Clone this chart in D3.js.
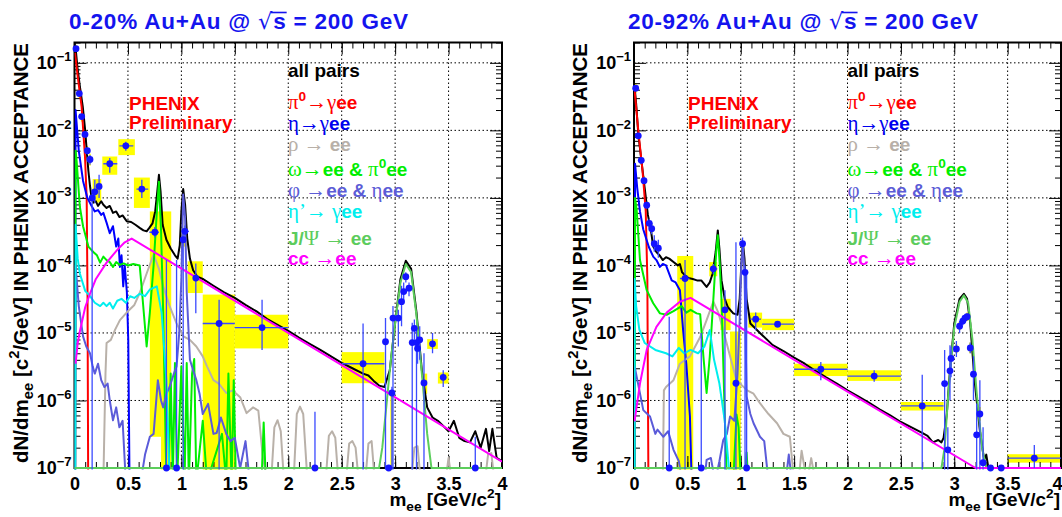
<!DOCTYPE html>
<html><head><meta charset="utf-8">
<script src="https://cdn.jsdelivr.net/npm/d3@7/dist/d3.min.js"></script>
<style>
html,body{margin:0;padding:0;background:#fff;}
svg{display:block;}
</style></head><body>
<svg id="chart" width="1062" height="517" xmlns="http://www.w3.org/2000/svg"></svg>
<script>
// ---------------- DATA (mass in GeV/c^2, yield dN/dm_ee) ----------------
const xTickValues=[0,0.5,1,1.5,2,2.5,3,3.5,4];
const xTickLabels=['0','0.5','1','1.5','2','2.5','3','3.5','4'];
const yTickValues=[1e-7,1e-6,1e-5,1e-4,1e-3,1e-2,1e-1];
const yTickExponents=['7','6','5','4','3','2','1'];

// ----- 0-20% centrality cocktail -----
const allPairs0020=[[0.01,0.166],[0.03,0.079],[0.05,0.045],[0.078,0.022],[0.1,0.010],[0.114,5.1e-3],[0.13,2.5e-3],[0.145,1.5e-3],[0.16,1.0e-3],[0.176,8.5e-4],[0.2,8.9e-4],[0.22,7.6e-4],[0.25,8.9e-4],[0.27,7.9e-4],[0.3,7.1e-4],[0.33,7.6e-4],[0.36,6.0e-4],[0.39,6.3e-4],[0.42,5.2e-4],[0.45,5.5e-4],[0.49,4.5e-4],[0.53,4.4e-4],[0.57,4.0e-4],[0.61,3.6e-4],[0.645,3.3e-4],[0.675,3.2e-4],[0.7,3.6e-4],[0.73,4.2e-4],[0.755,6.3e-4],[0.775,1.26e-3],[0.79,2.2e-3],[0.805,1.26e-3],[0.825,4.0e-4],[0.86,2.4e-4],[0.9,1.78e-4],[0.94,1.41e-4],[0.965,1.26e-4],[0.985,2.0e-4],[1.0,6.3e-4],[1.017,1.35e-3],[1.035,7.9e-4],[1.055,2.5e-4],[1.08,1.26e-4],[1.11,8.5e-5],[1.15,6.8e-5],[1.2,6.3e-5],[1.3,5.0e-5],[1.4,4.0e-5],[1.5,3.3e-5],[1.6,2.6e-5],[1.7,2.1e-5],[1.8,1.62e-5],[1.9,1.32e-5],[2.0,1.07e-5],[2.1,8.5e-6],[2.2,6.9e-6],[2.3,5.6e-6],[2.4,4.5e-6],[2.5,3.6e-6],[2.6,3.0e-6],[2.7,2.5e-6],[2.75,2.34e-6],[2.8,1.95e-6],[2.85,1.66e-6],[2.9,1.58e-6],[2.95,2.8e-6],[3.0,1.41e-5],[3.05,6.3e-5],[3.1,1.17e-4],[3.15,8.9e-5],[3.2,2.0e-5],[3.25,2.8e-6],[3.3,7.9e-7],[3.35,5.6e-7],[3.4,5.0e-7],[3.45,4.2e-7],[3.5,3.5e-7],[3.55,5.0e-7],[3.6,2.8e-7],[3.65,2.5e-7],[3.7,2.4e-7],[3.75,3.5e-7],[3.8,2.0e-7],[3.85,3.8e-7],[3.88,1.78e-7],[3.91,3.8e-7],[3.95,1.41e-7],[4.0,1.26e-7]];
const pi0_0020=[[0.005,0.141],[0.03,0.063],[0.067,0.022],[0.098,4.1e-3],[0.114,1.0e-3],[0.122,3.2e-5],[0.128,6.3e-8]];
const eta0020=[[0.006,6.3e-8],[0.01,0.02],[0.04,5.0e-3],[0.08,1.78e-3],[0.12,1.0e-3],[0.16,7.6e-4],[0.19,6.3e-4],[0.22,6.6e-4],[0.25,5.6e-4],[0.27,6.0e-4],[0.3,4.3e-4],[0.33,3.0e-4],[0.36,3.8e-4],[0.39,1.9e-4],[0.41,2.5e-4],[0.425,9.5e-5],[0.44,1.41e-4],[0.456,4.9e-5],[0.47,1.0e-4],[0.49,4.0e-5],[0.503,7.9e-6],[0.515,6.3e-8]];
const rho0020=[[0.27,6.3e-8],[0.29,2.5e-6],[0.3,7.1e-6],[0.34,7.9e-6],[0.38,1.12e-5],[0.425,1.55e-5],[0.5,2.1e-5],[0.56,2.6e-5],[0.61,3.9e-5],[0.675,7.6e-5],[0.74,1.45e-4],[0.79,8.9e-5],[0.83,4.9e-5],[0.89,2.5e-5],[0.955,1.38e-5],[1.02,8.9e-6],[1.08,7.9e-6],[1.14,6.3e-6],[1.2,4.5e-6],[1.24,3.2e-6],[1.3,2.0e-6],[1.35,1.78e-6],[1.42,1.29e-6],[1.48,1.41e-6],[1.55,1.12e-6],[1.61,6.5e-7],[1.67,7.9e-7],[1.72,7.1e-7],[1.76,1.58e-7],[1.8,6.3e-8],[1.84,6.3e-8],[1.87,4.0e-7],[1.9,5.1e-7],[1.93,3.5e-7],[1.96,6.3e-8],[2.05,6.3e-8],[2.08,6.3e-7],[2.11,8.1e-7],[2.14,6.3e-7],[2.18,6.3e-8],[2.35,6.3e-8],[2.38,3.0e-7],[2.41,3.5e-7],[2.44,2.8e-7],[2.47,6.3e-8],[2.54,6.3e-8],[2.57,2.3e-7],[2.6,2.5e-7],[2.63,2.0e-7],[2.66,6.3e-8],[2.72,6.3e-8],[2.75,2.3e-7],[2.78,2.5e-7],[2.81,6.3e-8],[3.15,6.3e-8],[3.18,2.0e-7],[3.21,2.1e-7],[3.24,6.3e-8],[3.47,6.3e-8],[3.5,1.41e-7],[3.53,6.3e-8],[3.84,6.3e-8],[3.87,1.6e-7],[3.9,1.66e-7],[3.93,6.3e-8]];
const omega0020=[[0.006,6.3e-8],[0.01,5.0e-3],[0.02,3.5e-3],[0.05,7.4e-4],[0.08,3.8e-4],[0.13,1.9e-4],[0.176,1.58e-4],[0.21,1.41e-4],[0.24,1.1e-4],[0.27,1.35e-4],[0.3,1.2e-4],[0.33,1.12e-4],[0.36,9.5e-5],[0.39,1.12e-4],[0.425,1.02e-4],[0.46,1.07e-4],[0.5,1.0e-4],[0.55,1.05e-4],[0.61,1.0e-4],[0.63,4.4e-5],[0.675,6.3e-6],[0.705,2.0e-5],[0.74,1.0e-4],[0.77,6.0e-4],[0.79,1.74e-3],[0.81,3.2e-4],[0.83,2.0e-5],[0.86,6.3e-8],[0.88,6.3e-8],[0.9,2.5e-6],[0.92,6.3e-8],[0.94,3.6e-6],[0.96,6.3e-8],[1.0,3.2e-6],[1.03,6.3e-8],[1.05,3.6e-6],[1.07,6.3e-8],[1.1,2.5e-6],[1.12,4.1e-6],[1.14,6.3e-8],[1.2,5.0e-7],[1.24,6.3e-8],[1.38,3.2e-7],[1.42,6.3e-8],[1.44,2.5e-6],[1.47,6.3e-8],[1.49,2.0e-6],[1.51,6.3e-8],[1.75,6.3e-8],[1.77,4.7e-7],[1.79,6.3e-8]];
const phi0020=[[0.006,6.3e-8],[0.01,1.0e-4],[0.04,2.5e-5],[0.08,8.9e-6],[0.11,6.3e-6],[0.145,5.0e-6],[0.17,3.2e-6],[0.19,2.5e-6],[0.22,3.5e-6],[0.25,2.0e-6],[0.28,1.58e-6],[0.31,1.78e-6],[0.33,1.0e-6],[0.36,5.1e-7],[0.39,7.9e-7],[0.42,4.0e-7],[0.45,5.0e-7],[0.48,6.3e-8],[0.62,6.3e-8],[0.66,1.58e-7],[0.705,2.9e-7],[0.74,3.2e-7],[0.78,2.0e-6],[0.81,1.0e-6],[0.83,7.9e-7],[0.86,1.26e-6],[0.89,1.58e-6],[0.93,2.5e-6],[0.955,3.2e-6],[0.98,1.0e-5],[1.0,6.3e-5],[1.017,1.12e-3],[1.035,5.0e-4],[1.05,4.0e-5],[1.08,4.0e-6],[1.11,2.8e-6],[1.14,2.0e-6],[1.17,1.26e-6],[1.2,6.3e-7],[1.25,8.9e-7],[1.3,3.2e-7],[1.33,3.3e-7],[1.37,5.6e-7],[1.42,3.2e-7],[1.46,2.5e-7],[1.5,2.8e-7],[1.55,1.0e-7],[1.6,2.5e-7],[1.64,6.3e-8]];
const etaPrime0020=[[0.006,6.3e-8],[0.01,4.0e-4],[0.03,1.26e-4],[0.05,7.6e-5],[0.1,4.2e-5],[0.145,3.5e-5],[0.19,2.8e-5],[0.24,2.5e-5],[0.27,2.8e-5],[0.3,2.5e-5],[0.33,2.8e-5],[0.36,2.3e-5],[0.4,3.0e-5],[0.44,3.2e-5],[0.48,2.8e-5],[0.52,3.5e-5],[0.56,3.3e-5],[0.61,3.8e-5],[0.66,3.5e-5],[0.705,4.4e-5],[0.77,4.9e-5],[0.815,2.0e-5],[0.86,2.0e-6],[0.89,6.3e-8]];
const jpsi0020=[[0,1e-7],[2.85,1e-7],[2.88,2.0e-7],[2.92,8.9e-7],[2.96,4.0e-6],[3.0,1.4e-5],[3.05,5.6e-5],[3.1,1.05e-4],[3.15,7.9e-5],[3.2,1.8e-5],[3.25,2.5e-6],[3.3,3.2e-7],[3.34,1e-7],[4,1e-7]];
const ccbar0020=[[0.01,3.5e-6],[0.03,7.1e-6],[0.05,1.05e-5],[0.1,2.4e-5],[0.15,4.0e-5],[0.2,6.3e-5],[0.3,1.1e-4],[0.4,1.7e-4],[0.47,2.2e-4],[0.535,2.5e-4],[2.0,1.0e-5],[4.0,1.24e-7]];
// data points: [mass, value, errLow, errHigh, (massLow, massHigh)]
const points0020=[[0.014,0.162,0.15,0.175],[0.045,0.035,0.032,0.038],[0.067,0.016,0.0145,0.0175],[0.098,8.7e-3,7.9e-3,9.6e-3],[0.12,5.0e-3,4.4e-3,5.6e-3],[0.145,3.7e-3,3.1e-3,4.3e-3],[0.165,1.0e-3,1e-8,1.3e-3],[0.19,1.23e-3,8.3e-4,1.86e-3],[0.23,1.48e-3,1.0e-3,2.2e-3],[0.33,3.2e-3,2.35e-3,3.9e-3,0.27,0.4],[0.48,5.9e-3,5.0e-3,6.8e-3,0.42,0.55],[0.63,1.35e-3,1.0e-3,1.86e-3,0.58,0.69],[0.752,3.1e-4,2.6e-4,3.7e-4,0.7,0.79],[0.86,1e-7,1e-7,1.2e-4],[0.955,1e-7,1e-7,1.2e-4],[1.017,2.4e-4,1e-8,3.5e-4],[1.033,3.2e-4,2.6e-4,3.9e-4,1.0,1.07],[1.135,6.5e-5,1.95e-5,1.07e-4],[1.353,1.38e-5,1e-8,3.1e-5,1.2,1.5],[1.755,1.2e-5,5.6e-6,3.1e-5,1.5,2.0],[2.25,1e-7,1e-7,6.8e-7],[2.7,3.5e-6,1e-8,1.38e-5,2.5,2.9],[2.91,7.4e-6,1e-8,1.66e-5],[2.94,1e-7,1e-7,1e-7],[2.97,1.29e-6,1e-8,1.6e-6],[2.98,1.66e-5,1e-8,2.5e-5],[3.03,1.66e-5,6.3e-6,2.2e-5],[3.06,2.9e-5,1.26e-5,5.0e-5],[3.08,4.1e-5,2.8e-5,5.6e-5],[3.1,6.8e-5,5.6e-5,7.9e-5],[3.13,4.6e-5,3.5e-5,5.6e-5],[3.16,7.2e-6,1e-8,1.41e-5],[3.18,1.17e-5,7.9e-6,1.58e-5],[3.2,7.2e-6,1e-8,1.12e-5],[3.21,5.9e-6,3.5e-6,8.9e-6],[3.23,7.9e-6,4.0e-6,1.26e-5],[3.27,1.82e-6,1e-8,5.0e-6],[3.35,6.9e-6,5.0e-6,1.0e-5],[3.45,2.2e-6,1.58e-6,2.8e-6],[3.75,1e-7,1e-7,2.9e-7]];
// systematic boxes: [massLow, massHigh, yLow, yHigh]
const sysBoxes0020=[[0.006,0.022,0.14,0.185],[0.038,0.052,0.03,0.04],[0.06,0.074,0.0135,0.0185],[0.091,0.105,7.4e-3,1.0e-2],[0.113,0.127,4.2e-3,5.9e-3],[0.138,0.152,3.0e-3,4.5e-3],[0.17,0.25,8.5e-4,1.9e-3],[0.26,0.40,2.2e-3,4.1e-3],[0.41,0.565,4.3e-3,7.4e-3],[0.556,0.705,7.1e-4,2.0e-3],[0.705,0.81,2.9e-7,6.3e-4],[0.81,0.905,1e-8,6.3e-4],[1.0,1.05,1.9e-4,3.6e-4],[1.06,1.2,3.9e-5,1.15e-4],[1.2,1.5,1e-8,3.7e-5],[1.5,2.0,5.9e-6,1.86e-5],[2.5,2.9,1.8e-6,5.2e-6],[2.955,2.975,1e-8,1.3e-6],[3.09,3.11,6.0e-5,7.6e-5],[3.26,3.3,1.26e-6,2.5e-6],[3.3,3.4,5.8e-6,8.1e-6],[3.4,3.5,1.78e-6,2.6e-6]];

// ----- 20-92% centrality cocktail -----
const allPairs2092=[[0.005,0.045],[0.02,0.025],[0.04,8.9e-3],[0.07,3.5e-3],[0.1,1.41e-3],[0.13,5.6e-4],[0.16,3.2e-4],[0.18,1.9e-4],[0.21,1.58e-4],[0.24,1.41e-4],[0.27,1.2e-4],[0.3,1.32e-4],[0.33,1.26e-4],[0.37,1.12e-4],[0.41,1.0e-4],[0.43,1.05e-4],[0.45,7.9e-5],[0.48,7.1e-5],[0.51,6.5e-5],[0.55,6.3e-5],[0.59,6.0e-5],[0.63,6.0e-5],[0.68,4.8e-5],[0.71,5.6e-5],[0.737,7.6e-5],[0.765,1.58e-4],[0.785,3.3e-4],[0.8,1.78e-4],[0.82,6.0e-5],[0.85,3.2e-5],[0.88,2.4e-5],[0.93,1.95e-5],[0.97,1.86e-5],[0.99,3.2e-5],[1.005,1.0e-4],[1.02,2.2e-4],[1.035,1.26e-4],[1.055,3.2e-5],[1.09,1.38e-5],[1.18,1.0e-5],[1.3,6.6e-6],[1.4,5.4e-6],[1.5,4.3e-6],[1.6,3.5e-6],[1.7,2.75e-6],[1.8,2.2e-6],[1.9,1.78e-6],[2.0,1.41e-6],[2.1,1.15e-6],[2.2,9.3e-7],[2.3,7.4e-7],[2.4,6.0e-7],[2.5,4.8e-7],[2.6,4.0e-7],[2.7,3.3e-7],[2.75,3.0e-7],[2.8,2.4e-7],[2.85,2.6e-7],[2.88,2.4e-7],[2.9,2.8e-7],[2.93,6.3e-7],[2.96,2.8e-6],[3.0,1.38e-5],[3.05,3.2e-5],[3.09,3.8e-5],[3.12,3.2e-5],[3.15,1.38e-5],[3.19,2.0e-6],[3.24,3.6e-7],[3.28,1.32e-7],[3.3,1.58e-7],[3.33,7.9e-8]];
const pi0_2092=[[0.005,0.04],[0.04,0.01],[0.08,2.5e-3],[0.11,6.3e-4],[0.125,6.3e-5],[0.135,6.3e-8]];
const eta2092=[[0.006,6.3e-8],[0.01,3.2e-3],[0.03,1.41e-3],[0.056,6.3e-4],[0.087,3.4e-4],[0.14,1.86e-4],[0.18,1.35e-4],[0.21,1.2e-4],[0.243,9.5e-5],[0.27,1.05e-4],[0.3,1.0e-4],[0.353,6.0e-5],[0.39,5.6e-5],[0.43,4.3e-5],[0.46,1.1e-5],[0.49,3.5e-6],[0.524,5.8e-7],[0.54,6.3e-8]];
const rho2092=[[0.27,6.3e-8],[0.28,1.41e-6],[0.3,1.58e-6],[0.37,2.0e-6],[0.43,3.5e-6],[0.524,4.5e-6],[0.62,8.7e-6],[0.68,1.55e-5],[0.743,2.9e-5],[0.79,2.0e-5],[0.836,1.1e-5],[0.9,4.5e-6],[0.96,2.0e-6],[1.06,1.41e-6],[1.12,1.26e-6],[1.18,9.1e-7],[1.26,6.3e-7],[1.34,4.6e-7],[1.4,3.2e-7],[1.46,2.9e-7],[1.5,6.3e-8],[1.54,6.3e-8],[1.57,1.8e-7],[1.62,6.3e-8],[1.66,1.4e-7],[1.7,6.3e-8]];
const omega2092=[[0.006,6.3e-8],[0.01,1.0e-3],[0.025,6.6e-4],[0.056,1.2e-4],[0.119,4.3e-5],[0.18,2.75e-5],[0.243,1.95e-5],[0.306,1.86e-5],[0.37,2.1e-5],[0.446,2.5e-5],[0.49,2.0e-5],[0.53,2.2e-5],[0.587,1.95e-5],[0.62,1.9e-5],[0.65,4.5e-6],[0.68,1.29e-6],[0.71,4.5e-6],[0.743,3.1e-5],[0.77,1.58e-4],[0.785,2.8e-4],[0.8,1.26e-4],[0.82,3.1e-5],[0.85,5.8e-7],[0.87,6.3e-8],[0.93,6.3e-8],[0.96,6.2e-7],[0.98,4.0e-7],[1.0,6.3e-8],[1.04,6.3e-8],[1.055,1.7e-7],[1.07,6.3e-8]];
const phi2092=[[0.004,6.3e-8],[0.006,3.2e-6],[0.087,7.2e-7],[0.15,5.8e-7],[0.2,3.2e-7],[0.22,3.7e-7],[0.275,2.9e-7],[0.32,3.5e-7],[0.37,1.86e-7],[0.42,1.26e-7],[0.45,6.3e-8],[0.66,6.3e-8],[0.68,1.32e-7],[0.72,1.41e-7],[0.76,6.3e-8],[0.8,1.26e-7],[0.836,2.6e-7],[0.87,3.2e-7],[0.9,5.8e-7],[0.94,5.0e-7],[0.97,2.5e-6],[0.99,1.58e-5],[1.005,1.0e-4],[1.02,1.9e-4],[1.035,7.9e-5],[1.055,1.15e-6],[1.09,6.3e-7],[1.12,4.6e-7],[1.18,2.9e-7],[1.22,2.5e-7],[1.26,6.3e-8],[1.42,6.3e-8],[1.45,1.58e-7],[1.48,6.3e-8]];
const etaPrime2092=[[0.004,6.3e-8],[0.006,6.3e-5],[0.02,2.5e-5],[0.05,1.12e-5],[0.1,7.1e-6],[0.2,5.6e-6],[0.3,5.0e-6],[0.36,4.5e-6],[0.42,6.0e-6],[0.47,5.0e-6],[0.53,5.6e-6],[0.6,5.0e-6],[0.66,6.3e-6],[0.71,1.1e-5],[0.75,4.0e-6],[0.8,1.78e-6],[0.85,5.0e-7],[0.9,6.3e-8]];
const jpsi2092=[[0,1e-7],[2.88,1e-7],[2.91,2.0e-7],[2.94,1.0e-6],[2.97,4.0e-6],[3.0,1.2e-5],[3.05,2.9e-5],[3.09,3.6e-5],[3.13,2.8e-5],[3.17,8.0e-6],[3.21,1.3e-6],[3.26,2.0e-7],[3.3,1e-7],[4,1e-7]];
const ccbar2092=[[0.005,4.9e-7],[0.056,1.78e-6],[0.119,5.6e-6],[0.21,1.23e-5],[0.306,2.0e-5],[0.43,2.9e-5],[0.53,3.3e-5],[2.0,1.35e-6],[3.2,1.0e-7],[4.0,1.0e-7]];
const points2092=[[0.016,0.042,0.038,0.046],[0.04,8.3e-3,7.6e-3,9.1e-3],[0.068,3.6e-3,3.2e-3,4.0e-3],[0.094,1.8e-3,1.6e-3,2.0e-3],[0.119,7.8e-4,6.9e-4,8.8e-4],[0.143,4.2e-4,3.6e-4,4.9e-4],[0.166,3.5e-4,2.9e-4,4.3e-4],[0.19,2.1e-4,1.6e-4,2.8e-4],[0.228,1.8e-4,1.3e-4,2.4e-4],[0.33,1e-7,1e-7,1.74e-5],[0.478,6.4e-5,1e-8,1.2e-4,0.43,0.52],[0.63,1e-7,1e-7,1.0e-5],[0.743,8.9e-5,7.4e-5,1.05e-4,0.71,0.78],[0.852,2.2e-5,1e-8,4.3e-5],[0.955,1.8e-6,1e-8,2.2e-4],[1.017,2.1e-4,1.6e-4,2.6e-4],[1.04,7.9e-5,1e-8,1.0e-4],[1.055,1e-7,1e-7,7.2e-5],[1.14,1.6e-5,1.1e-5,2.0e-5,1.09,1.19],[1.345,1.35e-5,1.2e-5,1.5e-5,1.2,1.5],[1.75,2.9e-6,2.0e-6,3.7e-6,1.5,2.0],[2.25,2.3e-6,1.9e-6,2.8e-6,2.0,2.5],[2.7,8.3e-7,1e-8,2.4e-6,2.5,2.9],[2.91,1.78e-6,1e-8,5.6e-6],[2.94,1.86e-7,1e-8,4.0e-7],[2.96,2.75e-6,1.0e-6,6.6e-6],[2.97,4.2e-6,2.2e-6,6.3e-6],[3.02,5.8e-6,4.4e-6,7.6e-6],[3.05,1.26e-5,1.0e-5,1.5e-5],[3.08,1.5e-5,1.3e-5,1.7e-5],[3.1,1.66e-5,1.5e-5,1.85e-5],[3.12,1.74e-5,1.55e-5,1.95e-5],[3.15,6.0e-6,5.0e-6,7.2e-6],[3.18,2.45e-6,1.0e-6,4.5e-6],[3.21,3.1e-7,1e-8,9e-7],[3.24,6.3e-7,1e-8,2.0e-6],[3.27,1.2e-7,1e-8,4.0e-7],[3.34,1e-7,1e-7,1e-7],[3.44,1e-7,1e-7,1e-7],[3.75,1.4e-7,1.0e-7,2.2e-7,3.5,4.0]];
const sysBoxes2092=[[0.008,0.024,0.036,0.05],[0.033,0.047,7.2e-3,9.6e-3],[0.061,0.075,3.1e-3,4.2e-3],[0.087,0.101,1.55e-3,2.1e-3],[0.112,0.126,6.7e-4,9.0e-4],[0.136,0.15,3.6e-4,4.9e-4],[0.159,0.173,3.0e-4,4.1e-4],[0.183,0.197,1.8e-4,2.45e-4],[0.221,0.235,1.55e-4,2.1e-4],[0.405,0.555,1e-8,1.38e-4],[0.705,0.78,6.9e-5,1.12e-4],[0.81,0.905,1.1e-5,3.2e-5],[0.9,1.0,1e-8,1.05e-5],[1.07,1.2,1.2e-5,2.0e-5],[1.2,1.5,1.1e-5,1.62e-5],[1.5,2.0,2.3e-6,3.5e-6],[2.0,2.5,1.95e-6,2.8e-6],[2.5,2.9,7.1e-7,9.5e-7],[3.01,3.03,5.0e-6,6.8e-6],[3.04,3.06,1.1e-5,1.45e-5],[3.11,3.13,1.5e-5,2.0e-5],[3.14,3.16,5.0e-6,7.2e-6],[3.23,3.25,5.0e-7,8.0e-7],[3.5,4.0,1.2e-7,1.6e-7]];

// ---------------- STYLE ----------------
const SANS='"Liberation Sans", Arial, Helvetica, sans-serif';
const SERIF='"Liberation Serif", "Times New Roman", "DejaVu Serif", serif';
const COL={all:'#000000',pi0:'#ff0000',eta:'#0000ff',rho:'#b9b1a9',omega:'#00ee00',phi:'#5b5bd9',etap:'#00eeee',jpsi:'#5ccd5c',cc:'#ff00ff'};
const TITLE_COL='#1414ee', PT_COL='#1414ff', ERR_COL='#3a4aff', SYS_COL='#ffff00';

const svg=d3.select('#chart');
const defs=svg.append('defs');

const panels=[
 {id:'a',x0:74.5,x1:502,y0:42.5,y1:468,title:'0-20%',titleX:69,titleLen:339,ylabX:27.5,phenixX:129,legX:288,
  curves:[[allPairs0020,COL.all],[pi0_0020,COL.pi0],[eta0020,COL.eta],[rho0020,COL.rho],[omega0020,COL.omega],[phi0020,COL.phi],[etaPrime0020,COL.etap],[jpsi0020,COL.jpsi],[ccbar0020,COL.cc]],
  points:points0020,boxes:sysBoxes0020},
 {id:'b',x0:634,x1:1061,y0:42.5,y1:468,title:'20-92%',titleX:628,titleLen:350,ylabX:587,phenixX:688,legX:847.5,
  curves:[[allPairs2092,COL.all],[pi0_2092,COL.pi0],[eta2092,COL.eta],[rho2092,COL.rho],[omega2092,COL.omega],[phi2092,COL.phi],[etaPrime2092,COL.etap],[jpsi2092,COL.jpsi],[ccbar2092,COL.cc]],
  points:points2092,boxes:sysBoxes2092}
];

const legendRows=[
 {c:'#000',y:77,segs:[{t:'all pairs'}]},
 {c:COL.pi0,y:109,segs:[{t:'π',g:1},{t:'0',sup:1},{t:'→',g:1},{t:'γ',g:1},{t:'ee'}]},
 {c:'#0000ee',y:130,segs:[{t:'η',g:1},{t:'→',g:1},{t:'γ',g:1},{t:'ee'}]},
 {c:'#b8b0a8',y:150.5,segs:[{t:'ρ → ',g:1},{t:'ee'}]},
 {c:'#00ee00',y:176,segs:[{t:'ω',g:1},{t:'→',g:1},{t:'ee & '},{t:'π',g:1},{t:'0',sup:1},{t:'ee'}]},
 {c:'#5c5cd6',y:197,segs:[{t:'φ',g:1},{t:' →',g:1},{t:'ee & '},{t:'η',g:1},{t:'ee'}]},
 {c:'#00eeee',y:218,segs:[{t:'η’→ ',g:1},{t:'γ',g:1},{t:'ee'}]},
 {c:'#5ccc5c',y:245,segs:[{t:'J/'},{t:'Ψ',g:1},{t:' → ',g:1},{t:'ee'}]},
 {c:'#ff00ff',y:265,segs:[{t:'cc '},{t:'→',g:1},{t:'ee'}]}
];

function richText(parent,x,y,segs,color,size){
 const t=parent.append('text').attr('x',x).attr('y',y).attr('fill',color)
   .attr('font-family',SANS).attr('font-weight','bold').attr('font-size',size);
 let off=0; // current vertical offset (positive = down)
 segs.forEach(s=>{
  const ts=t.append('tspan').text(s.t);
  let target=0;
  if(s.sup){target=-Math.round(size*0.42); ts.attr('font-size',size*0.72);}
  else if(s.sub){target=Math.round(size*0.25); ts.attr('font-size',size*0.72);}
  const dy=target-off; off=target;
  if(dy) ts.attr('dy',dy);
  if(s.g) ts.attr('font-family',SERIF).attr('font-weight','normal').attr('font-size',size*1.1);
 });
 return t;
}

function drawPanel(p){
 const x=d3.scaleLinear().domain([0,4]).range([p.x0,p.x1]);
 const y=d3.scaleLog().domain([1e-7,0.2]).range([p.y1,p.y0]);
 const g=svg.append('g');
 const cid='clip-'+p.id;
 defs.append('clipPath').attr('id',cid).append('rect')
   .attr('x',p.x0).attr('y',p.y0).attr('width',p.x1-p.x0).attr('height',p.y1-p.y0+1.5);

 // grid
 const grid=g.append('g').attr('stroke','#000').attr('stroke-width',1).attr('stroke-dasharray','1.5,2.5');
 grid.selectAll('line.v').data(xTickValues.slice(1,-1)).join('line').attr('class','v')
   .attr('x1',d=>x(d)).attr('x2',d=>x(d)).attr('y1',p.y0).attr('y2',p.y1);
 grid.selectAll('line.h').data(yTickValues.slice(1)).join('line').attr('class','h')
   .attr('y1',d=>y(d)).attr('y2',d=>y(d)).attr('x1',p.x0).attr('x2',p.x1);

 // systematic boxes
 g.append('g').attr('clip-path',`url(#${cid})`).selectAll('rect').data(p.boxes).join('rect')
   .attr('x',d=>x(d[0])).attr('width',d=>x(d[1])-x(d[0]))
   .attr('y',d=>y(d[3])).attr('height',d=>y(d[2])-y(d[3])).attr('fill',SYS_COL);

 // axes
 const xMinor=d3.range(0,41).map(i=>i/10);
 const yMinor=[];
 for(let e=-7;e<=-1;e++) for(let k=2;k<=9;k++){const v=k*Math.pow(10,e); if(v<=0.2) yMinor.push(v);}
 const ax=g.append('g');
 const styleAxis=s=>{s.select('.domain').remove(); s.selectAll('line').attr('stroke','#000').attr('stroke-width',1);};
 ax.append('g').attr('transform',`translate(0,${p.y1})`).call(d3.axisBottom(x).tickValues(xMinor).tickSize(-6).tickFormat('')).call(styleAxis);
 ax.append('g').attr('transform',`translate(0,${p.y0})`).call(d3.axisTop(x).tickValues(xMinor).tickSize(-6).tickFormat('')).call(styleAxis);
 const gb=ax.append('g').attr('transform',`translate(0,${p.y1})`)
   .call(d3.axisBottom(x).tickValues(xTickValues).tickSize(-12).tickPadding(9).tickFormat((d,i)=>xTickLabels[i])).call(styleAxis);
 gb.selectAll('text').attr('font-family',SANS).attr('font-weight','bold').attr('font-size',18).attr('fill','#000');
 // keep the last label inside the picture
 gb.selectAll('.tick text').filter(d=>x(d)>1050).attr('text-anchor','end').attr('x',1);
 ax.append('g').attr('transform',`translate(0,${p.y0})`).call(d3.axisTop(x).tickValues(xTickValues).tickSize(-12).tickFormat('')).call(styleAxis);
 ax.append('g').attr('transform',`translate(${p.x0},0)`).call(d3.axisLeft(y).tickValues(yMinor).tickSize(-6).tickFormat('')).call(styleAxis);
 ax.append('g').attr('transform',`translate(${p.x1},0)`).call(d3.axisRight(y).tickValues(yMinor).tickSize(-6).tickFormat('')).call(styleAxis);
 ax.append('g').attr('transform',`translate(${p.x1},0)`).call(d3.axisRight(y).tickValues(yTickValues).tickSize(-12).tickFormat('')).call(styleAxis);
 const gl=ax.append('g').attr('transform',`translate(${p.x0},0)`)
   .call(d3.axisLeft(y).tickValues(yTickValues).tickSize(-12).tickPadding(3).tickFormat(()=>'10')).call(styleAxis);
 gl.selectAll('.tick text').attr('font-family',SANS).attr('font-weight','bold').attr('font-size',18).attr('fill','#000')
   .each(function(d,i){d3.select(this).append('tspan').attr('dy',-8).attr('font-size',13).text('−'+yTickExponents[i]);});
 ax.append('rect').attr('x',p.x0).attr('y',p.y0).attr('width',p.x1-p.x0).attr('height',p.y1-p.y0)
   .attr('fill','none').attr('stroke','#000').attr('stroke-width',2);

 // curves
 const line=d3.line().x(d=>x(d[0])).y(d=>y(d[1]));
 const cg=g.append('g').attr('clip-path',`url(#${cid})`);
 p.curves.forEach(([data,color])=>{
  cg.append('path').attr('d',line(data)).attr('fill','none').attr('stroke',color)
    .attr('stroke-width',2).attr('stroke-linejoin','round');
 });

 // data points
 const eg=g.append('g').attr('clip-path',`url(#${cid})`).attr('stroke',ERR_COL).attr('stroke-width',1.3);
 eg.selectAll('line.ey').data(p.points).join('line').attr('class','ey')
   .attr('x1',d=>x(d[0])).attr('x2',d=>x(d[0])).attr('y1',d=>y(d[2])).attr('y2',d=>y(d[3]));
 eg.selectAll('line.ex').data(p.points.filter(d=>d.length>4)).join('line').attr('class','ex')
   .attr('x1',d=>x(d[4])).attr('x2',d=>x(d[5])).attr('y1',d=>y(d[1])).attr('y2',d=>y(d[1]));
 g.append('g').selectAll('circle').data(p.points).join('circle')
   .attr('cx',d=>x(d[0])).attr('cy',d=>y(d[1])).attr('r',3.4).attr('fill',PT_COL);

 // texts
 const tg=svg.append('g');
 const pre=p.title+' Au+Au @ ';
 const tt=tg.append('text').attr('x',p.titleX).attr('y',28.5).attr('fill',TITLE_COL)
   .attr('font-family',SANS).attr('font-weight','bold').attr('font-size',22.5);
 tt.append('tspan').text(pre);
 tt.append('tspan').attr('font-weight','normal').attr('font-family','"DejaVu Sans", sans-serif').text('√');
 tt.append('tspan').text('s');
 tt.append('tspan').text(' = 200 GeV');
 tt.attr('textLength',p.titleLen).attr('lengthAdjust','spacing');
 try{
  const n=tt.node(); const ia=pre.length;
  const a=n.getExtentOfChar(ia), b=n.getExtentOfChar(ia+1);
  tg.append('line').attr('x1',a.x+a.width-1.5).attr('x2',b.x+b.width+1).attr('y1',28.5-16).attr('y2',28.5-16)
    .attr('stroke',TITLE_COL).attr('stroke-width',1.6);
 }catch(e){}
 tg.append('text').attr('x',p.phenixX).attr('y',110).attr('fill','#ff0000').attr('font-family',SANS)
   .attr('font-weight','bold').attr('font-size',19).text('PHENIX');
 tg.append('text').attr('x',p.phenixX).attr('y',129).attr('fill','#ff0000').attr('font-family',SANS)
   .attr('font-weight','bold').attr('font-size',19).text('Preliminary');
 legendRows.forEach(r=>richText(tg,p.legX,r.y,r.segs,r.c,19));
 richText(tg,0,0,[{t:'m'},{t:'ee',sub:1},{t:' [GeV/c'},{t:'2',sup:1},{t:']'}],'#000',19)
   .attr('x',p.x1-1).attr('y',506).attr('text-anchor','end');
 richText(tg,0,0,[{t:'dN/dm'},{t:'ee',sub:1},{t:' [c'},{t:'2',sup:1},{t:'/GeV] IN PHENIX ACCEPTANCE'}],'#000',20.5)
   .attr('text-anchor','middle').attr('transform',`translate(${p.ylabX},253) rotate(-90)`);
}

panels.forEach(drawPanel);
</script>
</body></html>
